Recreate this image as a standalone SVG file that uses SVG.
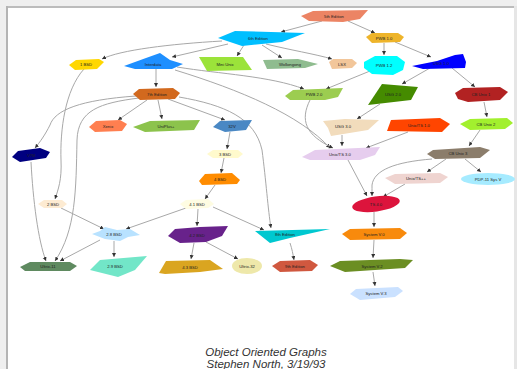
<svg xmlns="http://www.w3.org/2000/svg" width="517" height="369" viewBox="0 0 517 369">
<style>
.e{fill:none;stroke:#a8a8a8;stroke-width:1;marker-end:url(#ah)}
.n text{font-family:"Liberation Sans",Arial,sans-serif;font-size:4.2px;fill:#222;text-anchor:middle;dominant-baseline:central}
.t{font-family:"Liberation Sans",Arial,sans-serif;font-style:italic;font-size:11.5px;fill:#333;text-anchor:middle}
</style>
<defs>
<marker id="ah" markerUnits="userSpaceOnUse" markerWidth="5" markerHeight="5" refX="4" refY="2" orient="auto">
<path d="M0,0 L4,2 L0,4 Z" fill="#333"/>
</marker>
</defs>
<rect x="0" y="0" width="517" height="369" fill="#ffffff"/>
<rect x="0" y="0" width="517" height="7" fill="#efefef"/>
<rect x="0" y="0" width="6" height="369" fill="#efefef"/>
<rect x="6" y="6" width="511" height="2" fill="#bcbcbc"/>
<rect x="6" y="6" width="2" height="363" fill="#b4b4b4"/>
<rect x="514" y="6" width="3" height="363" fill="#e6e6e6"/>

<g id="edges">
<path class="e" d="M322,21 L281,32"/>
<path class="e" d="M348,21 L375,33"/>
<path class="e" d="M266,44 C290,50 315,54 332,59"/>
<path class="e" d="M222,41 C170,44 120,50 102,59"/>
<path class="e" d="M244,45 L237,56"/>
<path class="e" d="M262,45 L282,58"/>
<path class="e" d="M228,44 L172,57"/>
<path class="e" d="M177,67 C220,74 270,76 304,89"/>
<path class="e" d="M175,70 C240,90 300,115 330,148"/>
<path class="e" d="M156,69 L156,87"/>
<path class="e" d="M179,97 C225,105 255,118 262,150 C266,180 268,210 271,228"/>
<path class="e" d="M168,99 L225,120"/>
<path class="e" d="M147,100 L118,120"/>
<path class="e" d="M158,100 L162,119"/>
<path class="e" d="M139,98 C100,103 78,110 77,140 C76,190 76,230 55,261"/>
<path class="e" d="M136,96 C80,100 55,110 50,125 C45,135 40,142 35,148"/>
<path class="e" d="M31,162 C33,200 38,240 46,261"/>
<path class="e" d="M290,243 C292,249 293,254 294,260"/>
<path class="e" d="M84,69 C65,90 60,130 61,160 C62,180 58,190 55,199"/>
<path class="e" d="M61,208 L104,229"/>
<path class="e" d="M100,240 L60,261"/>
<path class="e" d="M114,241 L114,257"/>
<path class="e" d="M230,132 L227,149"/>
<path class="e" d="M224,158 L221,173"/>
<path class="e" d="M215,185 L205,199"/>
<path class="e" d="M198,209 L197,226"/>
<path class="e" d="M186,208 L126,229"/>
<path class="e" d="M213,207 L264,230"/>
<path class="e" d="M194,243 L191,259"/>
<path class="e" d="M206,242 L238,259"/>
<path class="e" d="M384,43 L384,55"/>
<path class="e" d="M395,42 L431,57"/>
<path class="e" d="M370,71 L326,89"/>
<path class="e" d="M452,68 L475,87"/>
<path class="e" d="M430,68 L402,84"/>
<path class="e" d="M484,102 L487,117"/>
<path class="e" d="M480,130 L469,146"/>
<path class="e" d="M446,159 L427,172"/>
<path class="e" d="M465,159 L481,172"/>
<path class="e" d="M380,104 L357,119"/>
<path class="e" d="M342,135 L342,146"/>
<path class="e" d="M310,100 C300,120 305,135 333,148"/>
<path class="e" d="M408,132 L366,148"/>
<path class="e" d="M348,160 L367,196"/>
<path class="e" d="M405,184 L383,197"/>
<path class="e" d="M432,159 C395,162 374,170 372,185 C372,190 372,193 372,196"/>
<path class="e" d="M374,212 L374,227"/>
<path class="e" d="M374,240 L373,258"/>
<path class="e" d="M373,272 L375,286"/>
</g>

<g id="n-5th-edition" class="n"><polygon points="301,16 313,11 368,10 360,19 343,22 309,21" fill="#ec8464"/><text x="334" y="16">5th Edition</text></g>
<g id="n-6th-edition" class="n"><polygon points="218,38 235,31 305,33 282,42 242,46" fill="#00bfff"/><text x="258" y="38">6th Edition</text></g>
<g id="n-pwb-1-0" class="n"><polygon points="366,37 372,33 398,33 404,37 400,42 372,43" fill="#eeb42a"/><text x="384" y="38">PWB 1.0</text></g>
<g id="n-lsx" class="n"><polygon points="329,62 333,59 352,59 357,63 352,68 332,69" fill="#f2c69a"/><text x="342" y="64">LSX</text></g>
<g id="n-wollongong" class="n"><polygon points="263,60 298,59 306,61 318,64 305,68 267,69" fill="#8fbc8f"/><text x="290" y="64">Wollongong</text></g>
<g id="n-mini-unix" class="n"><polygon points="199,57 243,57 252,70 207,71" fill="#9be33a"/><text x="225" y="64">Mini Unix</text></g>
<g id="n-interdata" class="n"><polygon points="124,66 146,58 160,53 170,60 183,64 172,69 135,69" fill="#1e8fff"/><text x="153" y="64">Interdata</text></g>
<g id="n-1-bsd" class="n"><polygon points="69,65 76,60 99,59 104,62 97,69 75,70" fill="#ffd700"/><text x="86" y="64">1 BSD</text></g>
<g id="n-pwb-1-2" class="n"><polygon points="364,62 375,56 397,56 405,62 403,70 393,75 372,74 364,68" fill="#00ffff"/><text x="384" y="65">PWB 1.2</text></g>
<g id="n-usg-1-0" class="n"><polygon points="412,66 437,61 455,55 463,54 466,62 465,68 423,69" fill="#0000ff"/><text x="441" y="63">USG 1.0</text></g>
<g id="n-pwb-2-0" class="n"><polygon points="285,96 293,90 343,88 338,97 325,100 290,100" fill="#9ccd50"/><text x="314" y="94">PWB 2.0</text></g>
<g id="n-usg-2-0" class="n"><polygon points="382,84 418,87 411,100 368,105" fill="#458b00"/><text x="393" y="94">USG 2.0</text></g>
<g id="n-cb-unix-1" class="n"><polygon points="455,93 463,88 500,87 508,92 500,100 468,102 458,99" fill="#b22222"/><text x="481" y="94">CB Unix 1</text></g>
<g id="n-7th-edition" class="n"><polygon points="133,94 139,89 173,88 180,93 175,99 140,100" fill="#d2691e"/><text x="157" y="94">7th Edition</text></g>
<g id="n-xenix" class="n"><polygon points="89,127 96,121 120,120 127,124 122,131 95,132" fill="#ff7f50"/><text x="108" y="126">Xenix</text></g>
<g id="n-uniplus" class="n"><polygon points="133,127 150,121 200,120 194,130 145,132" fill="#8cc34c"/><text x="166" y="126">UniPlus+</text></g>
<g id="n-32v" class="n"><polygon points="213,127 220,121 252,120 246,130 225,132" fill="#4a88c4"/><text x="232" y="126">32V</text></g>
<g id="n-v7m" class="n"><polygon points="12,157 18,151 40,148 50,152 46,158 20,162" fill="#000080"/><text x="31" y="155">V7M</text></g>
<g id="n-3-bsd" class="n"><polygon points="207,154 213,150 238,150 243,154 238,158 213,158" fill="#fffacd"/><text x="225" y="154">3 BSD</text></g>
<g id="n-4-bsd" class="n"><polygon points="199,181 205,174 232,173 240,180 237,184 202,185" fill="#ff8c00"/><text x="220" y="179">4 BSD</text></g>
<g id="n-2-bsd" class="n"><polygon points="38,204 44,200 62,200 67,204 62,208 44,208" fill="#fdebd2"/><text x="53" y="204">2 BSD</text></g>
<g id="n-4-1-bsd" class="n"><polygon points="180,204 186,200 208,199 214,204 208,208 186,209" fill="#fefce2"/><text x="197" y="204">4.1 BSD</text></g>
<g id="n-2-8-bsd" class="n"><polygon points="92,234 100,231 105,227 117,230 130,229 140,235 128,237 120,241 105,239" fill="#b8e2ff"/><text x="114" y="234">2.8 BSD</text></g>
<g id="n-4-2-bsd" class="n"><polygon points="168,236 175,229 200,227 228,226 222,236 206,242 180,243" fill="#68228b"/><text x="197" y="235">4.2 BSD</text></g>
<g id="n-8th-edition" class="n"><polygon points="255,231 330,229 290,238 270,243" fill="#00c8d0"/><text x="285" y="234">8th Edition</text></g>
<g id="n-9th-edition" class="n"><polygon points="272,266 280,261 310,260 318,265 312,271 280,272" fill="#d0583f"/><text x="295" y="266">9th Edition</text></g>
<g id="n-ultrix-11" class="n"><polygon points="20,267 30,262 70,262 77,266 70,271 25,271" fill="#5f8a60"/><text x="48" y="266">Ultrix-11</text></g>
<g id="n-2-9-bsd" class="n"><polygon points="90,270 100,260 147,256 135,270 118,277" fill="#72e6c8"/><text x="115" y="266">2.9 BSD</text></g>
<g id="n-4-3-bsd" class="n"><polygon points="159,273 166,261 210,260 223,269 200,272 165,274" fill="#daa520"/><text x="190" y="267">4.3 BSD</text></g>
<g id="n-ultrix-32" class="n"><ellipse cx="247" cy="266" rx="15" ry="8" fill="#eee8aa"/><text x="247" y="266">Ultrix-32</text></g>
<g id="n-usg-3-0" class="n"><polygon points="323,121 345,119 379,120 368,130 331,136 328,128" fill="#f2dcbc"/><text x="343" y="126">USG 3.0</text></g>
<g id="n-unix-ts-1-0" class="n"><polygon points="391,120 440,118 450,124 442,132 387,131" fill="#ff4500"/><text x="419" y="125">Unix/TS 1.0</text></g>
<g id="n-cb-unix-2" class="n"><polygon points="460,124 470,119 507,118 513,123 505,129 470,130" fill="#a2f02e"/><text x="486" y="124">CB Unix 2</text></g>
<g id="n-unix-ts-3-0" class="n"><polygon points="302,157 315,150 380,147 375,155 360,160 310,160" fill="#e6cdee"/><text x="340" y="154">Unix/TS 3.0</text></g>
<g id="n-cb-unix-3" class="n"><polygon points="427,154 433,150 480,147 490,150 480,158 435,159" fill="#8b7d6b"/><text x="458" y="153">CB Unix 3</text></g>
<g id="n-unix-ts-pp" class="n"><polygon points="385,178 395,174 440,173 448,177 440,183 395,184" fill="#efd4d0"/><text x="416" y="178">Unix/TS++</text></g>
<g id="n-pdp-11-sys-v" class="n"><ellipse cx="488" cy="179" rx="27" ry="6" fill="#a6ebff"/><text x="488" y="179">PDP-11 Sys V</text></g>
<g id="n-ts-4-0" class="n"><ellipse cx="376" cy="204" rx="24" ry="7.5" fill="#dc143c" transform="rotate(-8 376 204)"/><text x="376" y="204">TS 4.0</text></g>
<g id="n-system-v-0" class="n"><polygon points="342,234 350,229 400,228 407,233 400,239 350,240" fill="#f88a0c"/><text x="374" y="234">System V.0</text></g>
<g id="n-system-v-2" class="n"><polygon points="330,266 340,261 400,259 413,260 405,268 345,272" fill="#6b8e23"/><text x="372" y="266">System V.2</text></g>
<g id="n-system-v-3" class="n"><polygon points="350,294 356,289 398,287 403,291 395,297 360,300" fill="#cae1ff"/><text x="376" y="293">System V.3</text></g>

<text class="t" x="266" y="356">Object Oriented Graphs</text>
<text class="t" x="266" y="368">Stephen North, 3/19/93</text>
</svg>
